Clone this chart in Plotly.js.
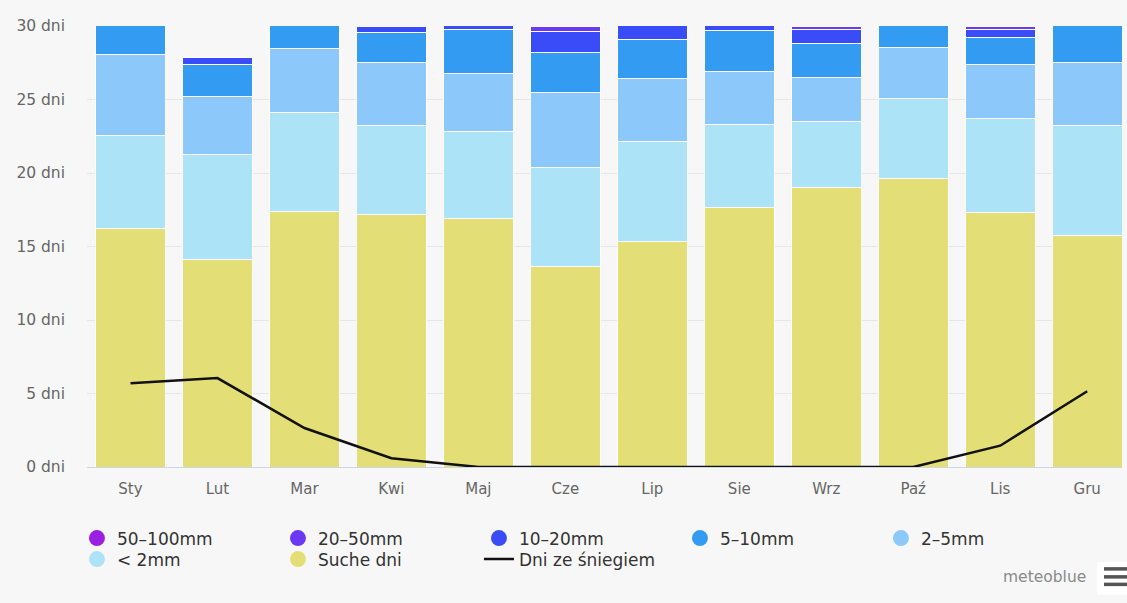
<!DOCTYPE html>
<html>
<head>
<meta charset="utf-8">
<script src="https://cdn.plot.ly/plotly-3.0.1.min.js"></script>
<style>
html,body{margin:0;padding:0;background:#f7f7f7;}
#chart{width:1127px;height:603px;}
</style>
</head>
<body>
<div id="chart"></div>
<script>
// Months
const months = ["Sty","Lut","Mar","Kwi","Maj","Cze","Lip","Sie","Wrz","Paź","Lis","Gru"];

// Days per category (stacked bottom -> top)
const dryDays   = [16.25, 14.10, 17.40, 17.20, 16.90, 13.65, 15.35, 17.65, 19.00, 19.65, 17.30, 15.75];
const lt2mm     = [ 6.30,  7.15,  6.75,  6.05,  5.95,  6.75,  6.80,  5.65,  4.50,  5.40,  6.40,  7.50];
const mm2to5    = [ 5.50,  3.95,  4.30,  4.30,  3.90,  5.05,  4.30,  3.60,  3.00,  3.50,  3.70,  4.30];
const mm5to10   = [ 2.95,  2.20,  2.55,  2.00,  3.00,  2.75,  2.60,  2.80,  2.30,  2.45,  1.80,  3.45];
const mm10to20  = [ 0.00,  0.45,  0.00,  0.45,  1.25,  1.40,  1.95,  1.30,  0.95,  0.00,  0.55,  0.00];
const mm20to50  = [ 0.00,  0.00,  0.00,  0.00,  0.00,  0.40,  0.00,  0.00,  0.25,  0.00,  0.25,  0.00];
const mm50to100 = [ 0,     0,     0,     0,     0,     0,     0,     0,     0,     0,     0,     0   ];

// Snow days
const snowDays  = [ 5.70,  6.05,  2.65,  0.60,  0.00,  0.00,  0.00,  0.00,  0.00,  0.00,  1.45,  5.15];

// Y tick values
const yTicks = [0, 5, 10, 15, 20, 25, 30];

const seriesNames = ["50–100mm","20–50mm","10–20mm","5–10mm","2–5mm","< 2mm","Suche dni"];
const seriesColors = ["#9b1fe3","#6c39f2","#3a4cf7","#339cf2","#8dc8fa","#ade3f7","#e3df76"];
const seriesData = [mm50to100, mm20to50, mm10to20, mm5to10, mm2to5, lt2mm, dryDays];
const snowName = "Dni ze śniegiem";

const FONT = "DejaVu Sans, Verdana, sans-serif";

const traces = [];
// bars, bottom to top
for (let i = seriesData.length - 1; i >= 0; i--) {
  traces.push({
    type: "bar",
    x: months,
    y: seriesData[i],
    name: seriesNames[i],
    marker: {color: seriesColors[i], line: {color: "#ffffff", width: 1}},
    showlegend: false,
    hoverinfo: "x+y+name"
  });
}
// snow line
traces.push({
  type: "scatter",
  mode: "lines",
  x: months,
  y: snowDays,
  name: snowName,
  line: {color: "#111111", width: 2.5},
  showlegend: false
});
// legend entries (circles): first row in legend, second row in legend2
seriesNames.forEach((n, i) => {
  traces.push({
    type: "scatter", mode: "markers", x: [null], y: [null], name: n,
    marker: {symbol: "circle", size: 16, color: seriesColors[i]},
    legend: i < 5 ? "legend" : "legend2",
    legendrank: i + 1, showlegend: true
  });
});
traces.push({
  type: "scatter", mode: "lines", x: [null], y: [null], name: snowName,
  line: {color: "#111111", width: 2.5}, legend: "legend2", legendrank: 8, showlegend: true
});

const legendBase = {
  orientation: "h",
  traceorder: "normal",
  x: -0.0097, xanchor: "left",
  yanchor: "top",
  entrywidth: 156, entrywidthmode: "pixels",
  font: {family: FONT, size: 17, color: "#333333"},
  bgcolor: "rgba(0,0,0,0)",
  itemclick: false, itemdoubleclick: false
};

const layout = {
  width: 1127, height: 603,
  margin: {l: 86.5, r: 5, t: 25.5, b: 136},
  paper_bgcolor: "#f7f7f7",
  plot_bgcolor: "#f7f7f7",
  barmode: "stack",
  bargap: 0.2,
  font: {family: FONT, color: "#666666", size: 15},
  xaxis: {
    type: "category",
    range: [-0.5, 11.4],
    showline: true, linecolor: "#ccd6eb", linewidth: 1,
    showgrid: false, zeroline: false,
    ticks: "", ticklabelstandoff: 8,
    tickfont: {family: FONT, size: 15, color: "#666666"},
    fixedrange: true
  },
  yaxis: {
    range: [0, 30],
    tickvals: yTicks,
    ticktext: yTicks.map(v => v + " dni"),
    gridcolor: "#e6e6e6", gridwidth: 1,
    zeroline: false, showline: false,
    ticks: "", ticklabelstandoff: 21,
    tickfont: {family: FONT, size: 15.5, color: "#666666"},
    fixedrange: true
  },
  legend: Object.assign({}, legendBase, {y: -0.1214}),
  legend2: Object.assign({}, legendBase, {y: -0.1214 - 21 / 441.5}),
  annotations: [{
    xref: "paper", yref: "paper",
    x: (1088 - 86.5) / 1035.5, y: (467 - 577) / 441.5, xanchor: "right", yanchor: "middle",
    text: "meteoblue", showarrow: false,
    font: {family: FONT, size: 15.5, color: "#8a8a8a"}
  }],
  shapes: [{
    type: "rect", xref: "paper", yref: "paper",
    x0: (1097 - 86.5) / 1035.5, x1: (1130 - 86.5) / 1035.5,
    y0: (467 - 562) / 441.5, y1: (467 - 595) / 441.5,
    fillcolor: "#ffffff", line: {width: 0}
  }].concat([569, 577, 584.5].map(py => ({
    type: "line", xref: "paper", yref: "paper",
    x0: (1104 - 86.5) / 1035.5, x1: (1127 - 86.5) / 1035.5,
    y0: (467 - py) / 441.5, y1: (467 - py) / 441.5,
    line: {color: "#555555", width: 3.5}
  })))
};

Plotly.newPlot("chart", traces, layout, {displayModeBar: false});
</script>
</body>
</html>
